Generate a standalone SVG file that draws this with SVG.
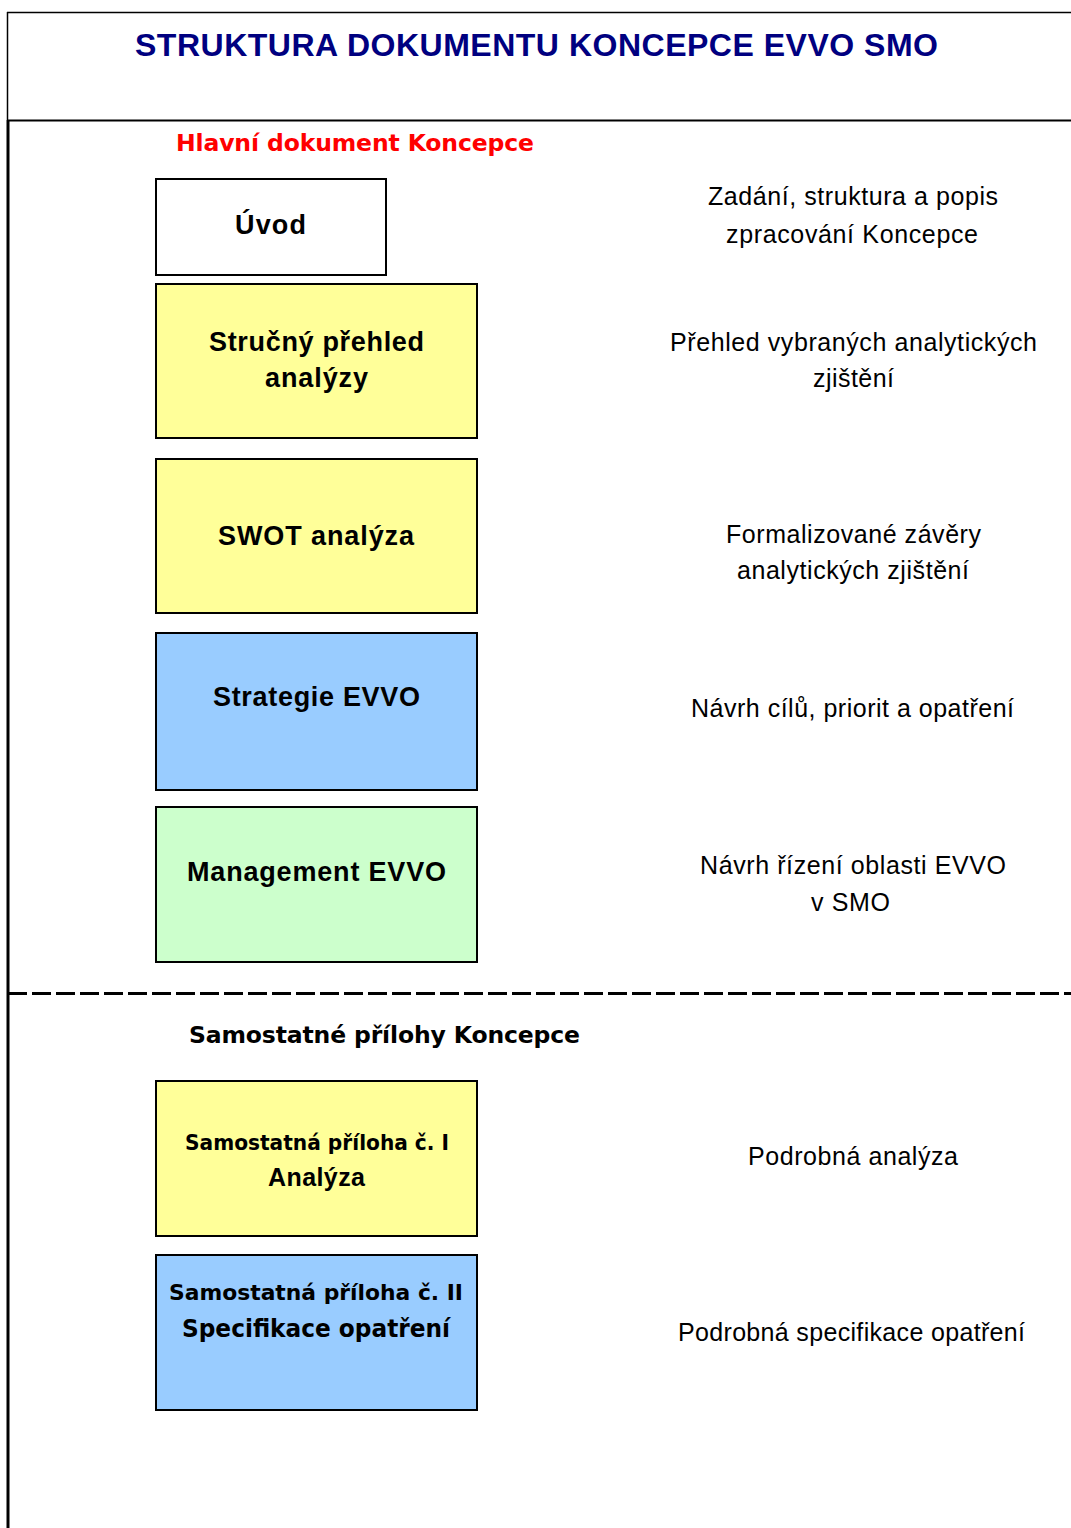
<svg xmlns="http://www.w3.org/2000/svg" width="1071" height="1528" viewBox="0 0 1071 1528">
<style>
.box{stroke:#000;stroke-width:2}
.yel{fill:#FFFF99}.blu{fill:#99CCFF}.grn{fill:#CCFFCC}.wht{fill:#fff}
.bt{font-family:"Liberation Sans",Arial,sans-serif;font-weight:bold;font-size:27px;fill:#000}
.vt{font-family:"DejaVu Sans",Verdana,sans-serif;font-weight:bold;fill:#000}
.rt{font-family:"Liberation Sans",Arial,sans-serif;font-size:25px;fill:#000}
</style>
<rect width="1071" height="1528" fill="#fff"/>
<g id="frame">
<line x1="7" y1="12.5" x2="1071" y2="12.5" stroke="#000" stroke-width="1.5"/>
<line x1="7.5" y1="12" x2="7.5" y2="120" stroke="#000" stroke-width="1.5"/>
<line x1="7" y1="120.5" x2="1071" y2="120.5" stroke="#000" stroke-width="2"/>
<line x1="8" y1="120" x2="8" y2="1528" stroke="#000" stroke-width="3"/>
<line x1="8" y1="993.5" x2="1071" y2="993.5" stroke="#000" stroke-width="3" stroke-dasharray="19 5"/>
</g>
<text x="135" y="56" textLength="803" lengthAdjust="spacing" font-family="Liberation Sans,Arial,sans-serif" font-weight="bold" font-size="32" fill="#000080">STRUKTURA DOKUMENTU KONCEPCE EVVO SMO</text>
<text x="176" y="151" textLength="358" lengthAdjust="spacing" class="vt" font-size="23.5" style="fill:#FF0000">Hlavní dokument Koncepce</text>
<g id="uvod"><rect class="box wht" x="156" y="179" width="230" height="96"/><text class="bt" x="235" y="234" textLength="71" lengthAdjust="spacing">Úvod</text></g>
<g id="prehled"><rect class="box yel" x="156" y="284" width="321" height="154"/><text class="bt" x="209" y="351" textLength="215" lengthAdjust="spacing">Stručný přehled</text><text class="bt" x="265" y="387" textLength="103" lengthAdjust="spacing">analýzy</text></g>
<g id="swot"><rect class="box yel" x="156" y="459" width="321" height="154"/><text class="bt" x="218" y="545" textLength="196" lengthAdjust="spacing">SWOT analýza</text></g>
<g id="strategie"><rect class="box blu" x="156" y="633" width="321" height="157"/><text class="bt" x="213" y="706" textLength="207" lengthAdjust="spacing">Strategie EVVO</text></g>
<g id="management"><rect class="box grn" x="156" y="807" width="321" height="155"/><text class="bt" x="187" y="881" textLength="259" lengthAdjust="spacing">Management EVVO</text></g>
<text x="189" y="1043" textLength="391" lengthAdjust="spacing" class="vt" font-size="23.5">Samostatné přílohy Koncepce</text>
<g id="priloha1"><rect class="box yel" x="156" y="1081" width="321" height="155"/><text class="vt" x="185" y="1150" font-size="21" textLength="264" lengthAdjust="spacingAndGlyphs">Samostatná příloha č. I</text><text class="bt" x="268" y="1186" style="font-size:25px" textLength="97" lengthAdjust="spacing">Analýza</text></g>
<g id="priloha2"><rect class="box blu" x="156" y="1255" width="321" height="155"/><text class="vt" x="169" y="1300" font-size="22" textLength="294" lengthAdjust="spacingAndGlyphs">Samostatná příloha č. II</text><text class="vt" x="182" y="1337" font-size="24" textLength="268" lengthAdjust="spacingAndGlyphs">Specifikace opatření</text></g>
<g id="desc">
<text class="rt" x="708" y="205" textLength="290" lengthAdjust="spacing">Zadání, struktura a popis</text>
<text class="rt" x="726" y="243" textLength="252" lengthAdjust="spacing">zpracování Koncepce</text>
<text class="rt" x="670" y="351" textLength="367" lengthAdjust="spacing">Přehled vybraných analytických</text>
<text class="rt" x="813" y="387" textLength="81" lengthAdjust="spacing">zjištění</text>
<text class="rt" x="726" y="543" textLength="255" lengthAdjust="spacing">Formalizované závěry</text>
<text class="rt" x="737" y="579" textLength="232" lengthAdjust="spacing">analytických zjištění</text>
<text class="rt" x="691" y="717" textLength="323" lengthAdjust="spacing">Návrh cílů, priorit a opatření</text>
<text class="rt" x="700" y="874" textLength="306" lengthAdjust="spacing">Návrh řízení oblasti EVVO</text>
<text class="rt" x="811" y="911" textLength="79" lengthAdjust="spacing">v SMO</text>
<text class="rt" x="748" y="1165" textLength="210" lengthAdjust="spacing">Podrobná analýza</text>
<text class="rt" x="678" y="1341" textLength="347" lengthAdjust="spacing">Podrobná specifikace opatření</text>
</g>
</svg>
